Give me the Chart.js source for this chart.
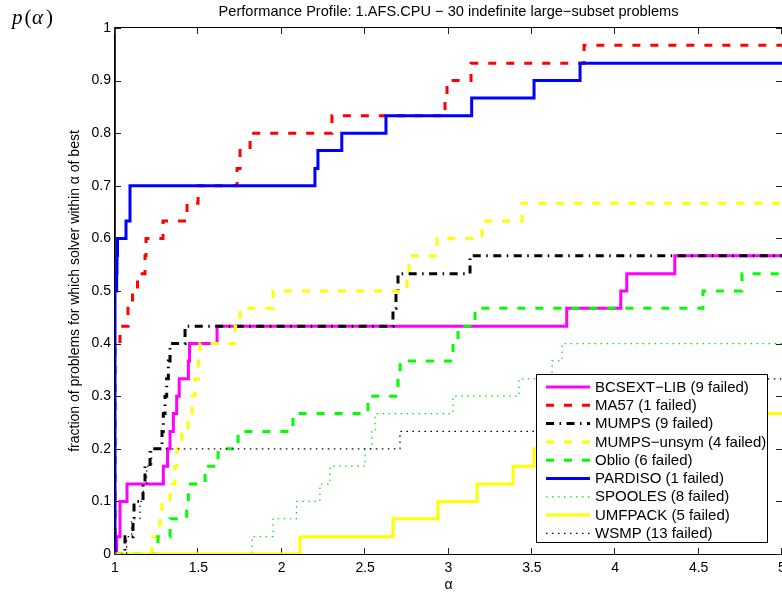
<!DOCTYPE html>
<html>
<head>
<meta charset="utf-8">
<script src="https://cdn.jsdelivr.net/npm/chart.js@4.4.1/dist/chart.umd.min.js"></script>
<style>
  html, body { margin: 0; padding: 0; background: #ffffff; }
  canvas { display: block; }
</style>
</head>
<body>
<canvas id="profile" width="782" height="593"></canvas>
<script>
const FONT = '"Liberation Sans", Arial, Helvetica, sans-serif';

const chartTitle = 'Performance Profile: 1.AFS.CPU \u2212 30 indefinite large\u2212subset problems';
const yAxisTitle = 'fraction of problems for which solver within \u03b1 of best';
const xAxisTitle = '\u03b1';

const xTickValues = [1, 1.5, 2, 2.5, 3, 3.5, 4, 4.5, 5];
const xTickLabels = ['1', '1.5', '2', '2.5', '3', '3.5', '4', '4.5', '5'];
const yTickValues = [0, 0.1, 0.2, 0.3, 0.4, 0.5, 0.6, 0.7, 0.8, 0.9, 1];
const yTickLabels = ['0', '0.1', '0.2', '0.3', '0.4', '0.5', '0.6', '0.7', '0.8', '0.9', '1'];

const solverNames = [
  'BCSEXT\u2212LIB (9 failed)',
  'MA57 (1 failed)',
  'MUMPS (9 failed)',
  'MUMPS\u2212unsym (4 failed)',
  'Oblio (6 failed)',
  'PARDISO (1 failed)',
  'SPOOLES (8 failed)',
  'UMFPACK (5 failed)',
  'WSMP (13 failed)'
];

// Each solver: alpha where the fraction steps up, and the fraction reached there
const bcsextAlpha = [1, 1.01, 1.03, 1.072, 1.29, 1.315, 1.33, 1.35, 1.37, 1.385, 1.44, 1.447, 1.612, 3.709, 4.033, 4.069, 4.357, 5];
const bcsextP     = [0, 0.033, 0.1, 0.133, 0.167, 0.2, 0.233, 0.267, 0.3, 0.333, 0.367, 0.4, 0.433, 0.467, 0.5, 0.533, 0.567, 0.567];

const ma57Alpha = [1, 1, 1.03, 1.078, 1.105, 1.135, 1.18, 1.186, 1.288, 1.432, 1.498, 1.732, 1.75, 1.81, 2.301, 2.979, 2.991, 3.135, 3.813, 5];
const ma57P     = [0, 0.4, 0.433, 0.467, 0.5, 0.533, 0.567, 0.6, 0.633, 0.667, 0.7, 0.733, 0.767, 0.8, 0.833, 0.867, 0.9, 0.933, 0.967, 0.967];

const mumpsAlpha = [1, 1.06, 1.108, 1.114, 1.168, 1.18, 1.21, 1.282, 1.29, 1.3, 1.31, 1.32, 1.33, 1.42, 2.667, 2.685, 2.697, 3.129, 5];
const mumpsP     = [0, 0.033, 0.067, 0.1, 0.133, 0.167, 0.2, 0.233, 0.267, 0.3, 0.333, 0.367, 0.4, 0.433, 0.467, 0.5, 0.533, 0.567, 0.567];

const mumpsUnsymAlpha = [1, 1.222, 1.27, 1.282, 1.33, 1.36, 1.372, 1.40, 1.438, 1.462, 1.48, 1.50, 1.51, 1.72, 1.75, 1.948, 2.751, 2.763, 2.931, 3.201, 3.441, 5];
const mumpsUnsymP     = [0, 0.033, 0.067, 0.1, 0.133, 0.167, 0.2, 0.233, 0.267, 0.3, 0.333, 0.367, 0.4, 0.433, 0.467, 0.5, 0.533, 0.567, 0.6, 0.633, 0.667, 0.667];

const oblioAlpha = [1, 1.258, 1.33, 1.43, 1.44, 1.54, 1.618, 1.738, 2.067, 2.517, 2.697, 2.71, 3.027, 3.057, 3.159, 4.526, 4.76, 5];
const oblioP     = [0, 0.033, 0.067, 0.1, 0.133, 0.167, 0.2, 0.233, 0.267, 0.3, 0.333, 0.367, 0.4, 0.433, 0.467, 0.5, 0.533, 0.533];

const pardisoAlpha = [1, 1, 1.01, 1.012, 1.015, 1.066, 1.09, 2.199, 2.217, 2.36, 2.625, 3.139, 3.513, 3.789, 5];
const pardisoP     = [0, 0.5, 0.533, 0.567, 0.6, 0.633, 0.7, 0.733, 0.767, 0.8, 0.833, 0.867, 0.9, 0.933, 0.933];

const spoolesAlpha = [1, 1.822, 1.948, 2.088, 2.229, 2.289, 2.5, 2.54, 2.56, 3.027, 3.423, 3.621, 3.681, 5];
const spoolesP     = [0, 0.033, 0.067, 0.1, 0.133, 0.167, 0.2, 0.233, 0.267, 0.3, 0.333, 0.367, 0.4, 0.4];

const umfpackAlpha = [1, 2.109, 2.667, 2.937, 3.171, 3.387, 3.513, 3.9, 4.3, 5];
const umfpackP     = [0, 0.033, 0.067, 0.1, 0.133, 0.167, 0.2, 0.233, 0.267, 0.267];

const wsmpAlpha = [1, 1.07, 1.1, 1.15, 1.17, 1.19, 1.22, 2.709, 3.9, 4.3, 4.7, 5];
const wsmpP     = [0, 0.033, 0.067, 0.1, 0.133, 0.167, 0.2, 0.233, 0.267, 0.3, 0.333, 0.333];

// line styles, in the same order as solverNames
const styles = [
  { color: '#ff00ff', width: 3, dash: [] },
  { color: '#ff0000', width: 3, dash: [8, 10] },
  { color: '#000000', width: 3, dash: [8, 5.5, 1.5, 5.5] },
  { color: '#ffff00', width: 3, dash: [8, 10] },
  { color: '#00ff00', width: 3, dash: [8, 10] },
  { color: '#0000ff', width: 3, dash: [] },
  { color: '#00e000', width: 1.2, dash: [1.5, 4.5] },
  { color: '#ffff00', width: 3, dash: [] },
  { color: '#000000', width: 1.2, dash: [1.5, 4.5] }
];

const series = [
  [bcsextAlpha, bcsextP],
  [ma57Alpha, ma57P],
  [mumpsAlpha, mumpsP],
  [mumpsUnsymAlpha, mumpsUnsymP],
  [oblioAlpha, oblioP],
  [pardisoAlpha, pardisoP],
  [spoolesAlpha, spoolesP],
  [umfpackAlpha, umfpackP],
  [wsmpAlpha, wsmpP]
];

const datasets = series.map(([a, p], i) => ({
  label: solverNames[i],
  data: a.map((x, k) => ({ x: x, y: p[k] })),
  borderColor: styles[i].color,
  borderWidth: styles[i].width,
  borderDash: styles[i].dash,
  borderCapStyle: 'butt',
  borderJoinStyle: 'miter',
  stepped: 'before',
  fill: false,
  pointRadius: 0,
  pointHoverRadius: 0,
  order: -i
}));

// axes box with inward ticks, title, p(alpha) label and the legend
const decor = {
  id: 'decor',
  beforeDatasetsDraw(chart) {
    const { ctx, chartArea: a, scales } = chart;
    const xs = scales.x, ys = scales.y;
    ctx.save();
    ctx.strokeStyle = '#000';
    ctx.lineWidth = 1;
    ctx.beginPath();
    ctx.moveTo(114.5, a.bottom + 0.5);
    ctx.lineTo(114.5, a.top - 0.5);
    ctx.lineTo(a.right + 0.5, a.top - 0.5);
    ctx.moveTo(114.5, a.bottom + 0.5);
    ctx.lineTo(a.right + 0.5, a.bottom + 0.5);
    ctx.stroke();
    ctx.lineWidth = 1.6;
    ctx.beginPath();
    ctx.moveTo(115, a.bottom);
    ctx.lineTo(115, a.top);
    ctx.stroke();

    ctx.lineWidth = 1;
    ctx.strokeStyle = '#222';
    ctx.beginPath();
    const tick = 6;
    xTickValues.forEach(v => {
      const px = Math.round(xs.getPixelForValue(v)) - 0.5;
      ctx.moveTo(px, a.bottom); ctx.lineTo(px, a.bottom - tick);
      ctx.moveTo(px, a.top); ctx.lineTo(px, a.top + tick);
    });
    yTickValues.forEach(v => {
      const py = Math.round(ys.getPixelForValue(v)) + 0.5;
      ctx.moveTo(a.left, py); ctx.lineTo(a.left + tick, py);
      ctx.moveTo(a.right, py); ctx.lineTo(a.right - tick, py);
    });
    ctx.stroke();

    // title over the plot area
    ctx.fillStyle = '#000';
    ctx.font = '14.6px ' + FONT;
    ctx.textAlign = 'center';
    ctx.textBaseline = 'middle';
    ctx.fillText(chartTitle, (a.left + a.right) / 2, 12);

    // p(alpha) label
    ctx.textAlign = 'left';
    ctx.textBaseline = 'alphabetic';
    const serif = '"Liberation Serif", "Times New Roman", "DejaVu Serif", serif';
    ctx.font = 'italic 21px ' + serif;
    ctx.fillText('p', 12, 23.5);
    ctx.font = '21px ' + serif;
    ctx.fillText('(', 24.5, 23.5);
    ctx.font = 'italic 21px ' + serif;
    ctx.fillText('\u03b1', 32, 23.5);
    ctx.font = '21px ' + serif;
    ctx.fillText(')', 46, 23.5);
    ctx.restore();
  },
  afterDatasetsDraw(chart) {
    const { ctx } = chart;
    const box = { left: 536, top: 374, right: 768, bottom: 543 };
    ctx.save();
    ctx.fillStyle = '#fff';
    ctx.fillRect(box.left, box.top, box.right - box.left, box.bottom - box.top);
    ctx.strokeStyle = '#000';
    ctx.lineWidth = 1;
    ctx.strokeRect(box.left + 0.5, box.top + 0.5, box.right - box.left - 1, box.bottom - box.top - 1);
    ctx.font = '15px ' + FONT;
    ctx.textAlign = 'left';
    ctx.textBaseline = 'middle';
    solverNames.forEach((name, i) => {
      const yy = 387 + i * 18.3;
      const st = styles[i];
      ctx.beginPath();
      ctx.strokeStyle = st.color;
      ctx.lineWidth = st.width;
      ctx.setLineDash(st.dash);
      ctx.lineCap = 'butt';
      ctx.moveTo(546, yy);
      ctx.lineTo(590, yy);
      ctx.stroke();
      ctx.setLineDash([]);
      ctx.fillStyle = '#000';
      ctx.fillText(name, 595, yy + 0.5);
    });
    ctx.restore();
  }
};

Chart.defaults.font.family = FONT;
Chart.defaults.color = '#000';

new Chart(document.getElementById('profile'), {
  type: 'line',
  data: { datasets },
  plugins: [decor],
  options: {
    responsive: false,
    animation: false,
    devicePixelRatio: 1,
    layout: { padding: { top: 28, left: 0, right: 0, bottom: 0 } },
    plugins: {
      legend: { display: false },
      title: { display: false },
      tooltip: { enabled: false }
    },
    events: [],
    scales: {
      x: {
        type: 'linear',
        position: 'bottom',
        min: 1,
        max: 5,
        afterBuildTicks: s => { s.ticks = xTickValues.map(v => ({ value: v })); },
        ticks: {
          callback: (v, i) => xTickLabels[i],
          font: { size: 14 },
          color: '#000',
          padding: 6,
          maxRotation: 0,
          autoSkip: false
        },
        grid: { display: false, drawTicks: false },
        border: { display: false },
        title: {
          display: true,
          text: xAxisTitle,
          font: { size: 14 },
          color: '#000',
          padding: { top: 0, bottom: -1 }
        },
        afterFit: s => { s.height = 39; s.paddingLeft = 0; s.paddingRight = 0; }
      },
      y: {
        type: 'linear',
        position: 'left',
        min: 0,
        max: 1,
        afterBuildTicks: s => { s.ticks = yTickValues.map(v => ({ value: v })); },
        ticks: {
          callback: (v, i) => yTickLabels[i],
          font: { size: 14 },
          color: '#000',
          padding: 4,
          autoSkip: false
        },
        grid: { display: false, drawTicks: false },
        border: { display: false },
        title: {
          display: true,
          text: yAxisTitle,
          font: { size: 14 },
          color: '#000',
          padding: { top: 67, bottom: 0 }
        },
        afterFit: s => { s.width = 115; s.paddingTop = 0; s.paddingBottom = 0; }
      }
    }
  }
});
</script>
</body>
</html>
